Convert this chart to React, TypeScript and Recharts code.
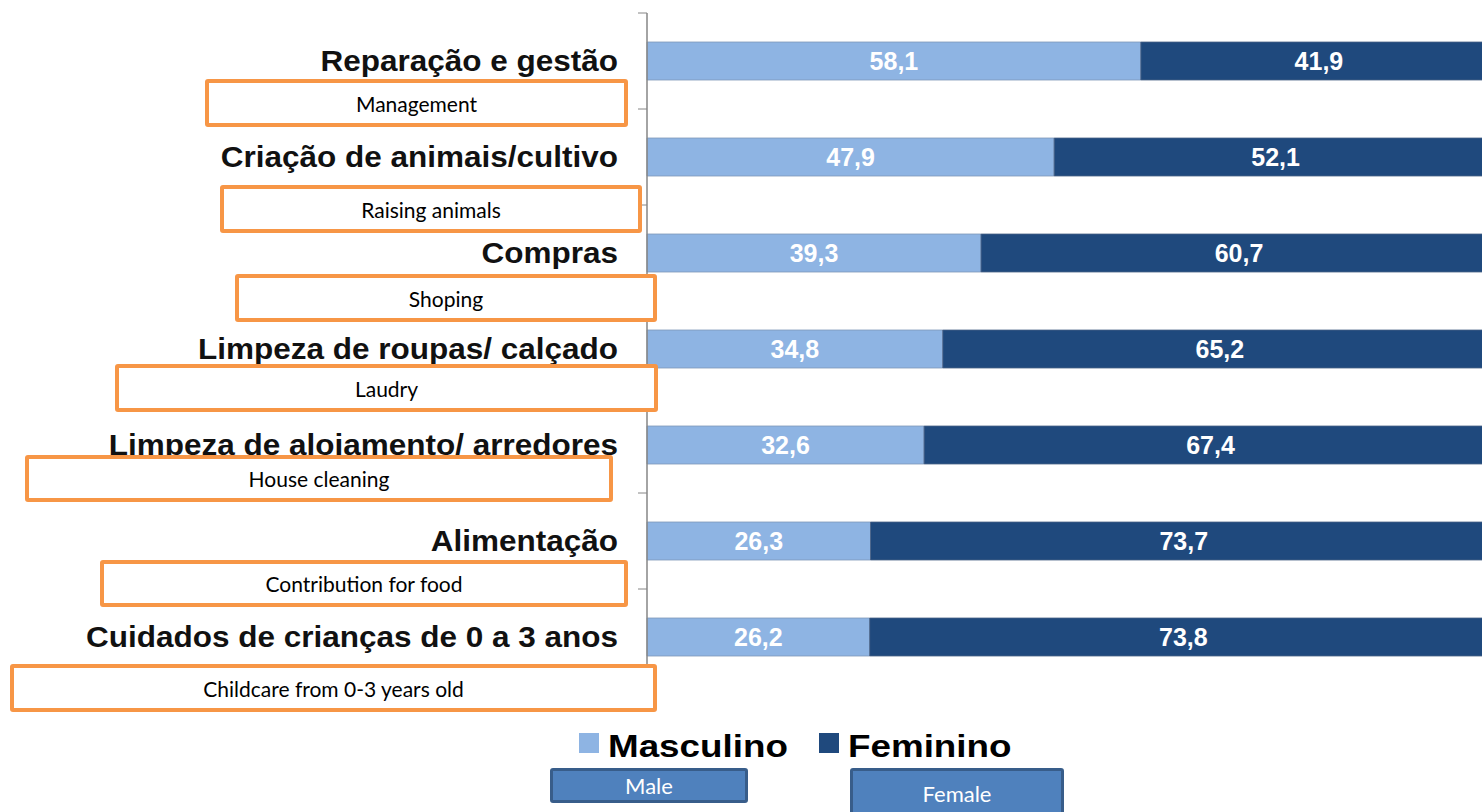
import { BarChart, Bar, XAxis, YAxis, LabelList } from 'recharts'

// Portuguese survey categories, top to bottom
const CATEGORIES = [
  'Reparação e gestão',
  'Criação de animais/cultivo',
  'Compras',
  'Limpeza de roupas/ calçado',
  'Limpeza de alojamento/ arredores',
  'Alimentação',
  'Cuidados de crianças de 0 a 3 anos',
]
const MASCULINO = [58.1, 47.9, 39.3, 34.8, 32.6, 26.3, 26.2]
const FEMININO = [41.9, 52.1, 60.7, 65.2, 67.4, 73.7, 73.8]

// English notes pasted over the chart
const TRANSLATIONS = [
  'Management',
  'Raising animals',
  'Shoping',
  'Laudry',
  'House cleaning',
  'Contribution for food',
  'Childcare from 0-3 years old',
]
const LEGEND_LABELS = ['Masculino', 'Feminino']
const LEGEND_TRANSLATIONS = ['Male', 'Female']

const LIGHT = '#8eb4e3'
const DARK = '#1f497d'
const AXIS = '#868686'
const ORANGE = '#f79646'
const FONT = "'Liberation Sans', Arial, sans-serif"

const W = 1482
const H = 812
const CHART_W = 1500
const MARGIN = { top: 13, right: 3, bottom: 127, left: 0 }
const PLOT_H = H - MARGIN.top - MARGIN.bottom
const AXIS_W = 647

// note box placement (left, top, width, height)
const NOTE_BOXES = [
  [205, 79, 423, 48],
  [220, 185, 422, 48],
  [235, 274, 422, 48],
  [115, 364, 543, 48],
  [25, 455, 588, 47],
  [100, 560, 528, 47],
  [10, 664, 647, 48],
]
const LEGEND_BOXES = [
  [550, 768, 198, 35],
  [850, 768, 214, 50],
]

const data = CATEGORIES.map((name, i) => ({
  name,
  masculino: MASCULINO[i],
  feminino: FEMININO[i],
}))

const fmt = (v: unknown) => String(v).replace('.', ',')

function CategoryTick(props: any) {
  const { x, y, payload, index } = props
  const half = PLOT_H / CATEGORIES.length / 2
  return (
    <g>
      <line x1={x - 9} x2={x} y1={y - half} y2={y - half} stroke={AXIS} />
      {index === CATEGORIES.length - 1 && (
        <line x1={x - 9} x2={x} y1={y + half} y2={y + half} stroke={AXIS} />
      )}
      <text
        transform={`translate(${x - 29},${y + 10}) scale(1.05,1)`}
        textAnchor="end"
        fontSize={30}
        fontWeight="bold"
        fontFamily={FONT}
        fill="#111"
      >
        {payload.value}
      </text>
    </g>
  )
}

export default function App() {
  return (
    <div
      style={{
        position: 'absolute',
        left: 0,
        top: 0,
        width: W,
        height: H,
        overflow: 'hidden',
        background: '#fff',
        fontFamily: FONT,
      }}
    >
      <BarChart
        width={CHART_W}
        height={H}
        data={data}
        layout="vertical"
        margin={MARGIN}
        barSize={38}
      >
        <XAxis type="number" domain={[0, 100]} hide />
        <YAxis
          type="category"
          dataKey="name"
          width={AXIS_W}
          axisLine={{ stroke: AXIS, strokeWidth: 1.5 }}
          tickLine={false}
          tickSize={0}
          tickMargin={0}
          tick={<CategoryTick />}
          interval={0}
        />
        <Bar
          dataKey="masculino"
          stackId="a"
          fill={LIGHT}
          stroke="#7f97b8"
          strokeWidth={0.8}
          isAnimationActive={false}
        >
          <LabelList
            dataKey="masculino"
            position="center"
            formatter={fmt}
            fill="#fff"
            fontSize={25}
            fontWeight="bold"
          />
        </Bar>
        <Bar
          dataKey="feminino"
          stackId="a"
          fill={DARK}
          stroke="#4a6287"
          strokeWidth={0.8}
          isAnimationActive={false}
        >
          <LabelList
            dataKey="feminino"
            position="center"
            formatter={fmt}
            fill="#fff"
            fontSize={25}
            fontWeight="bold"
          />
        </Bar>
      </BarChart>

      {TRANSLATIONS.map((t, i) => {
        const [l, tp, w, h] = NOTE_BOXES[i]
        return (
          <div
            key={t}
            style={{
              position: 'absolute',
              left: l,
              top: tp,
              width: w,
              height: h,
              boxSizing: 'border-box',
              border: `4px solid ${ORANGE}`,
              borderRadius: 3,
              background: '#fff',
              display: 'flex',
              alignItems: 'center',
              justifyContent: 'center',
              fontFamily: 'Lato, sans-serif',
              fontSize: 21,
              color: '#000',
            }}
          >
            {t}
          </div>
        )
      })}

      <svg
        width={W}
        height={H}
        style={{ position: 'absolute', left: 0, top: 0, pointerEvents: 'none' }}
      >
        <rect x={579} y={733} width={20} height={20} fill={LIGHT} />
        <text
          transform="translate(608,757) scale(1.15,1)"
          fontSize={32}
          fontWeight="bold"
          fontFamily={FONT}
        >
          {LEGEND_LABELS[0]}
        </text>
        <rect x={819} y={733} width={20} height={20} fill={DARK} />
        <text
          transform="translate(848,757) scale(1.15,1)"
          fontSize={32}
          fontWeight="bold"
          fontFamily={FONT}
        >
          {LEGEND_LABELS[1]}
        </text>
      </svg>

      {LEGEND_TRANSLATIONS.map((t, i) => {
        const [l, tp, w, h] = LEGEND_BOXES[i]
        return (
          <div
            key={t}
            style={{
              position: 'absolute',
              left: l,
              top: tp,
              width: w,
              height: h,
              boxSizing: 'border-box',
              border: '3px solid #385d8a',
              borderRadius: 3,
              background: '#4f81bd',
              display: 'flex',
              alignItems: 'center',
              justifyContent: 'center',
              fontFamily: 'Lato, sans-serif',
              fontSize: 22,
              color: '#fff',
            }}
          >
            {t}
          </div>
        )
      })}
    </div>
  )
}
